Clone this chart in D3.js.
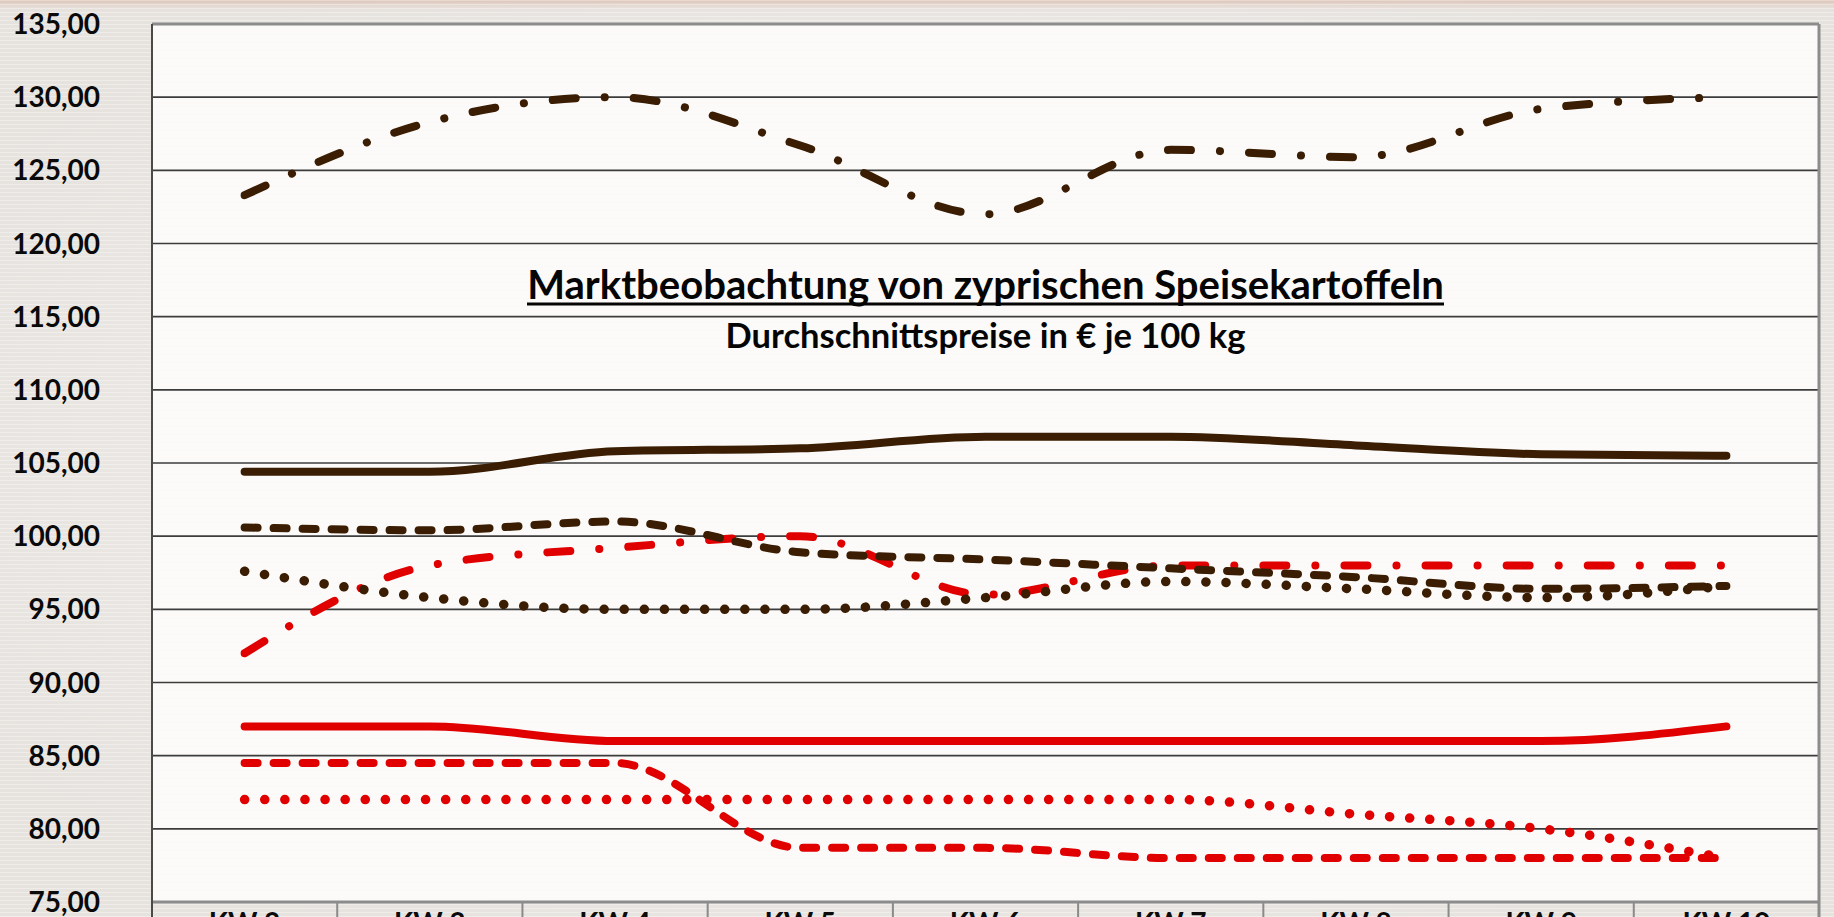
<!DOCTYPE html>
<html>
<head>
<meta charset="utf-8">
<script src="https://cdn.jsdelivr.net/npm/d3@7"></script>
<style>
  html, body { margin: 0; padding: 0; overflow: hidden; background: #ebe8e5; }
  svg { display: block; }
</style>
</head>
<body>
<div id="chart"></div>
<script>
// Kalenderwochen (x axis)
const weeks = ["KW 2", "KW 3", "KW 4", "KW 5", "KW 6", "KW 7", "KW 8", "KW 9", "KW 10"];

// y axis ticks
const yTicks = [75, 80, 85, 90, 95, 100, 105, 110, 115, 120, 125, 130, 135];

// series values, € je 100 kg
const brownDashDot = [123.3, 128.3, 130.0, 126.7, 122.0, 126.4, 125.9, 129.2, 130.0];
const brownSolid   = [104.4, 104.4, 105.8, 106.0, 106.8, 106.8, 106.2, 105.6, 105.5];
const brownDashed  = [100.6, 100.4, 101.0, 98.9, 98.4, 97.8, 97.2, 96.4, 96.6];
const brownDotted  = [97.6, 95.8, 95.0, 95.0, 95.8, 96.9, 96.4, 95.8, 96.6];
const redDashDot   = [92.0, 98.0, 99.2, 100.0, 96.0, 98.0, 98.0, 98.0, 98.0];
const redSolid     = [87.0, 87.0, 86.0, 86.0, 86.0, 86.0, 86.0, 86.0, 87.0];
const redDashed    = [84.5, 84.5, 84.5, 78.7, 78.7, 78.0, 78.0, 78.0, 78.0];
const redDotted    = [82.0, 82.0, 82.0, 82.0, 82.0, 82.0, 81.0, 80.0, 78.0];

const titleText = "Marktbeobachtung von zyprischen Speisekartoffeln";
const subtitleText = "Durchschnittspreise in € je 100 kg";

const brown = "#3a1d02";
const red = "#e00000";

// line styles
const dashDot = "23,29,0.1,29";
const dashed = "13,16";
const dotted = "0.1,20";

const series = [
  { values: redDashDot, color: red, dash: dashDot, w: 8 },
  { values: redSolid, color: red, dash: null, w: 8 },
  { values: redDashed, color: red, dash: dashed, w: 8 },
  { values: redDotted, color: red, dash: dotted, w: 9.5 },
  { values: brownDotted, color: brown, dash: dotted, w: 9.5 },
  { values: brownDashed, color: brown, dash: dashed, w: 8 },
  { values: brownSolid, color: brown, dash: null, w: 8 },
  { values: brownDashDot, color: brown, dash: dashDot, w: 8 }
];

const width = 1834, height = 917;
const margin = { top: 24, right: 15, bottom: 15, left: 152 };
const fontFamily = "Lato, 'Open Sans', sans-serif";

const svg = d3.select("#chart").append("svg")
  .attr("width", width)
  .attr("height", height);

const defs = svg.append("defs");

// faint stripe texture like the original background
const pat = defs.append("pattern")
  .attr("id", "stripes")
  .attr("width", 4).attr("height", 4)
  .attr("patternUnits", "userSpaceOnUse");
pat.append("rect").attr("width", 4).attr("height", 1).attr("fill", "#ffffff").attr("opacity", 0.35);

const topGrad = defs.append("linearGradient")
  .attr("id", "topband").attr("x1", 0).attr("x2", 0).attr("y1", 0).attr("y2", 1);
topGrad.append("stop").attr("offset", 0).attr("stop-color", "#dcc2b6");
topGrad.append("stop").attr("offset", 1).attr("stop-color", "#ebe8e5").attr("stop-opacity", 0);

const sideGrad = defs.append("radialGradient")
  .attr("id", "glow").attr("cx", 0.5).attr("cy", 0.5).attr("r", 0.6);
sideGrad.append("stop").attr("offset", 0).attr("stop-color", "#f3f1ef");
sideGrad.append("stop").attr("offset", 1).attr("stop-color", "#e6e2de");

// background
svg.append("rect").attr("width", width).attr("height", height).attr("fill", "url(#glow)");
svg.append("rect").attr("width", width).attr("height", 14).attr("fill", "url(#topband)");
svg.append("rect").attr("width", width).attr("height", height).attr("fill", "url(#stripes)");

const x = d3.scaleBand()
  .domain(weeks)
  .range([margin.left, width - margin.right]);

const y = d3.scaleLinear()
  .domain([75, 135])
  .range([height - margin.bottom, margin.top]);

const xMid = d => x(d) + x.bandwidth() / 2;

// plot area
svg.append("rect")
  .attr("x", margin.left).attr("y", margin.top)
  .attr("width", width - margin.left - margin.right)
  .attr("height", height - margin.top - margin.bottom)
  .attr("fill", "#fbfaf9");
svg.append("rect")
  .attr("x", margin.left).attr("y", margin.top)
  .attr("width", width - margin.left - margin.right)
  .attr("height", height - margin.top - margin.bottom)
  .attr("fill", "url(#stripes)").attr("opacity", 0.5);

// gridlines
svg.append("g")
  .selectAll("line")
  .data(yTicks.filter(t => t > 75 && t < 135))
  .join("line")
  .attr("x1", margin.left).attr("x2", width - margin.right)
  .attr("y1", d => y(d)).attr("y2", d => y(d))
  .attr("stroke", "#3c3c3c")
  .attr("stroke-width", 1.6);

// y labels
svg.append("g")
  .selectAll("text")
  .data(yTicks)
  .join("text")
  .attr("x", 100)
  .attr("y", d => y(d))
  .attr("dy", "0.36em")
  .attr("text-anchor", "end")
  .attr("font-family", fontFamily)
  .attr("font-weight", 700)
  .attr("font-size", 28)
  .attr("fill", "#0a0a0a")
  .text(d => d3.format(".2f")(d).replace(".", ","));

// category axis (table like cells under the plot)
const xAxis = svg.append("g");
xAxis.selectAll("line.sep")
  .data(weeks)
  .join("line")
  .attr("class", "sep")
  .attr("x1", d => x(d) + x.bandwidth()).attr("x2", d => x(d) + x.bandwidth())
  .attr("y1", height - margin.bottom).attr("y2", height)
  .attr("stroke", "#8a8a8a").attr("stroke-width", 2);
xAxis.selectAll("text")
  .data(weeks)
  .join("text")
  .attr("x", d => xMid(d))
  .attr("y", height - margin.bottom + 31)
  .attr("text-anchor", "middle")
  .attr("font-family", fontFamily)
  .attr("font-weight", 700)
  .attr("font-size", 28)
  .attr("fill", "#0a0a0a")
  .text(d => d);

// plot borders
svg.append("line")
  .attr("x1", margin.left).attr("x2", width - margin.right)
  .attr("y1", margin.top).attr("y2", margin.top)
  .attr("stroke", "#8c8c8c").attr("stroke-width", 3);
svg.append("line")
  .attr("x1", margin.left).attr("x2", width - margin.right)
  .attr("y1", height - margin.bottom).attr("y2", height - margin.bottom)
  .attr("stroke", "#8c8c8c").attr("stroke-width", 3);
svg.append("line")
  .attr("x1", width - margin.right).attr("x2", width - margin.right)
  .attr("y1", margin.top).attr("y2", height)
  .attr("stroke", "#8c8c8c").attr("stroke-width", 3);
svg.append("line")
  .attr("x1", margin.left).attr("x2", margin.left)
  .attr("y1", margin.top).attr("y2", height)
  .attr("stroke", "#4a4a4a").attr("stroke-width", 2);

// title
const cx = margin.left + (width - margin.left - margin.right) / 2;
function fitText(sel, targetWidth) {
  const w = sel.node().getComputedTextLength();
  const fs = +sel.attr("font-size");
  sel.attr("font-size", fs * targetWidth / w);
}
const title = svg.append("text")
  .attr("x", cx).attr("y", 299)
  .attr("text-anchor", "middle")
  .attr("font-family", fontFamily)
  .attr("font-weight", 700)
  .attr("font-size", 36)
  .attr("fill", "#050505")
  .text(titleText);
fitText(title, 917);
svg.append("line")
  .attr("x1", cx - 917 / 2).attr("x2", cx + 917 / 2)
  .attr("y1", 304).attr("y2", 304)
  .attr("stroke", "#050505").attr("stroke-width", 3);

const subtitle = svg.append("text")
  .attr("x", cx).attr("y", 348)
  .attr("text-anchor", "middle")
  .attr("font-family", fontFamily)
  .attr("font-weight", 700)
  .attr("font-size", 30)
  .attr("fill", "#050505")
  .text(subtitleText);
fitText(subtitle, 520);

// lines (smoothed without overshoot)
const line = d3.line()
  .x((d, i) => xMid(weeks[i]))
  .y(d => y(d))
  .curve(d3.curveMonotoneX);

svg.append("g")
  .selectAll("path")
  .data(series)
  .join("path")
  .attr("d", d => line(d.values))
  .attr("fill", "none")
  .attr("stroke", d => d.color)
  .attr("stroke-width", d => d.w)
  .attr("stroke-linecap", "round")
  .attr("stroke-linejoin", "round")
  .attr("stroke-dasharray", d => d.dash);
</script>
</body>
</html>
